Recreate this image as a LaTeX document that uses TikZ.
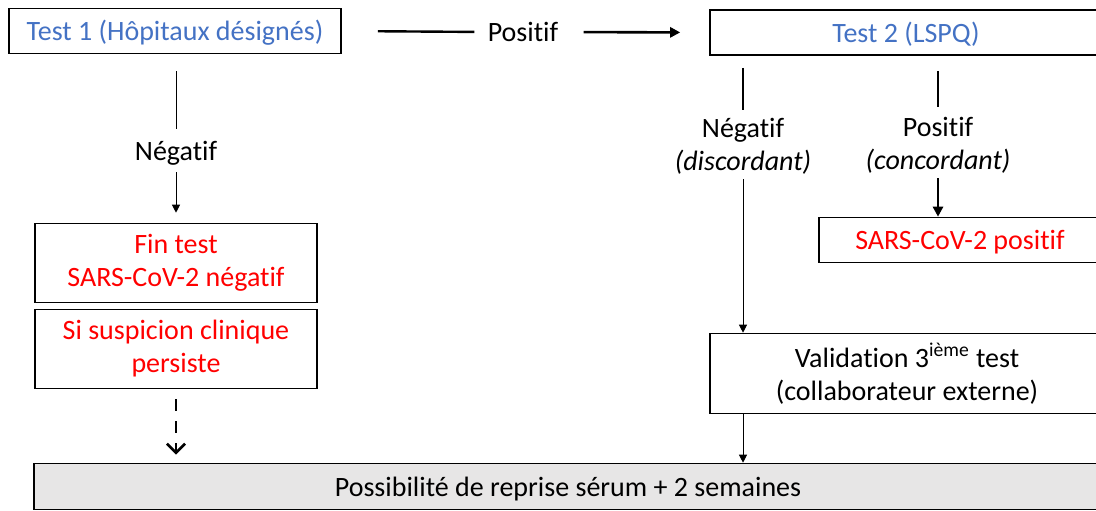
\documentclass[tikz,border=0pt]{standalone}
\usepackage{fontspec}
\setmainfont{Carlito}[Ligatures=NoCommon]
\usetikzlibrary{arrows.meta}
\definecolor{testblue}{HTML}{4472C4}
\definecolor{serumgray}{HTML}{E7E6E6}

\begin{document}
\begin{tikzpicture}[x=0.5pt, y=-0.5pt, >=Triangle,
        box/.style = {draw, line width=0.8pt, align=center, inner sep=0pt,
                      font=\fontsize{14}{16.5}\selectfont},
        onebox/.style = {box, text height=12pt},
        lbl/.style = {inner sep=0pt, align=center,
                      font=\fontsize{14}{16.5}\selectfont},
        thin/.style = {line width=0.5pt, -{Triangle[length=4pt,width=4pt]}},
        bold/.style = {line width=1.3pt, -{Triangle[length=5pt,width=5pt]}}]
        % Frame
        \useasboundingbox (0,0) rectangle (1096,510);
        \clip (0,0) rectangle (1096,510);

        % Boxes
        \node[onebox, text=testblue, minimum width=166pt, minimum height=22.5pt] (t1) at (175,31) {Test 1 (Hôpitaux désignés)};
        \node[onebox, text=testblue, minimum width=196pt, minimum height=22.5pt] (t2) at (906,32.5) {Test 2 (LSPQ)};
        \node[box, text=red, minimum width=141pt, minimum height=39.5pt] (fin) at (176,263) {Fin test\\SARS-CoV-2 négatif};
        \node[box, text=red, minimum width=141pt, minimum height=39.5pt] (susp) at (176,349) {Si suspicion clinique\\persiste};
        \node[onebox, text=red, minimum width=141pt, minimum height=22.5pt] (sars) at (960,240) {SARS-CoV-2 positif};
        \node[box, minimum width=197pt, minimum height=40pt] (valid) at (907,373.5) {Validation 3\textsuperscript{ième} test\\(collaborateur externe)};
        \node[onebox, fill=serumgray, minimum width=534pt, minimum height=23pt] (serum) at (568,486.5) {Possibilité de reprise sérum + 2 semaines};

        % Labels
        \node[lbl] (pos1) at (523,32) {Positif};
        \node[lbl] (neg1) at (176,153) {Négatif};
        \node[lbl] (neg2) at (743,146) {Négatif\\\textit{(discordant)}};
        \node[lbl] (pos2) at (938,145) {Positif\\\textit{(concordant)}};

        % Test 1 -> Test 2
        \draw[line width=1.2pt, shorten <=18pt, shorten >=6.5pt] (t1.east) -- (pos1.west);
        \draw[bold, shorten <=12.5pt, shorten >=14.5pt] (pos1.east) -- (t2.west);

        % Test 1 negative branch
        \draw[line width=0.5pt, shorten <=8.5pt, shorten >=6pt] (t1.south -| neg1) -- (neg1.north);
        \draw[thin, shorten <=3.5pt, shorten >=5pt] (neg1.south) -- (fin.north);
        \draw[line width=1.4pt, dash pattern=on 6pt off 5pt, -{Straight Barb[length=4.5pt,width=9pt]},
              shorten <=5pt, shorten >=4pt] (susp.south) -- (serum.north -| susp);

        % Test 2 branches
        \draw[line width=0.6pt, shorten <=6pt, shorten >=4pt] (t2.south -| neg2) -- (neg2.north);
        \draw[thin, shorten <=2.5pt] (neg2.south) -- (valid.north -| neg2);
        \draw[line width=1.3pt, shorten <=7.5pt, shorten >=5pt] (t2.south -| pos2) -- (pos2.north);
        \draw[bold, shorten <=2.5pt] (pos2.south) -- (sars.north -| pos2);
        \draw[thin] (valid.south -| neg2) -- (serum.north -| neg2);

    \end{tikzpicture}
\end{document}
